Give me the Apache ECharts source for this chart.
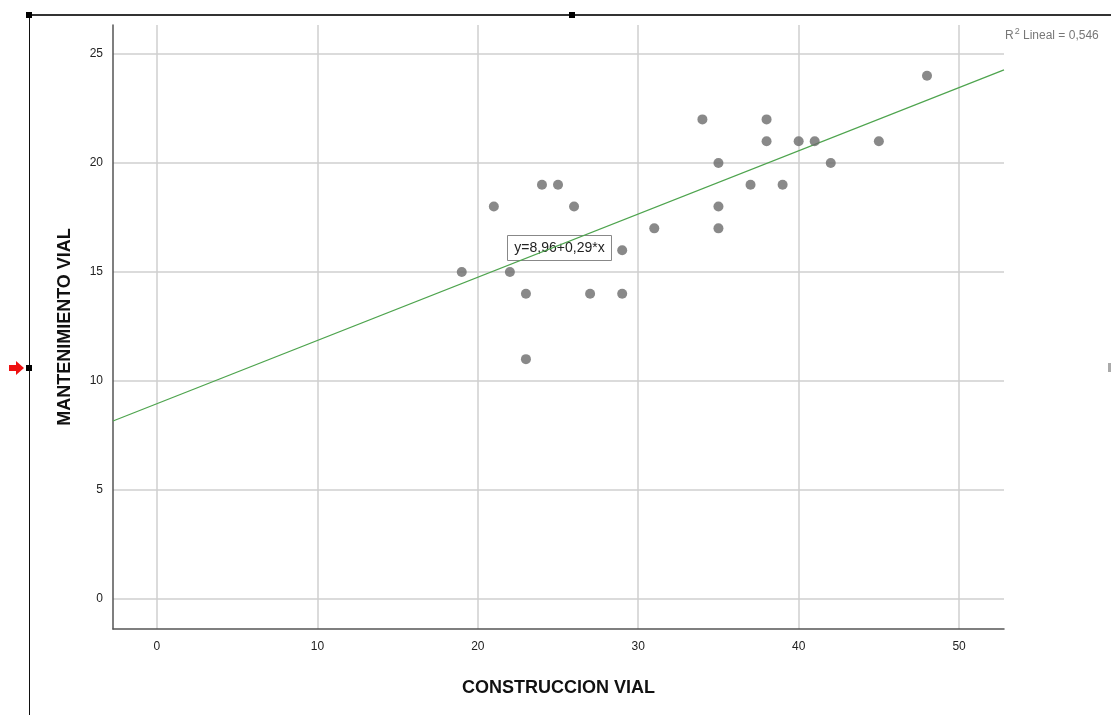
<!DOCTYPE html>
<html>
<head>
<meta charset="utf-8">
<script src="https://cdn.jsdelivr.net/npm/echarts@6/dist/echarts.min.js"></script>
<style>
  html, body { margin: 0; padding: 0; background: #fff; }
  #chart { width: 1111px; height: 715px; }
</style>
</head>
<body>
<div id="chart"></div>
<script>
// construccion vial (x) vs mantenimiento vial (y)
var construccion = [19, 21, 22, 23, 23, 24, 25, 26, 27, 29, 29, 31, 34, 35, 35, 35, 37, 38, 38, 39, 40, 41, 42, 45, 48];
var mantenimiento = [15, 18, 15, 14, 11, 19, 19, 18, 14, 16, 14, 17, 22, 20, 18, 17, 19, 22, 21, 19, 21, 21, 20, 21, 24];
var xTicks = [0, 10, 20, 30, 40, 50];
var yTicks = [0, 5, 10, 15, 20, 25];
var intercept = 8.96;
var slope = 0.29;
var xRange = [-2.74, 52.8];
var yRange = [-1.38, 26.33];

var points = construccion.map(function (x, i) { return [x, mantenimiento[i]]; });
var fitLine = xRange.map(function (x) { return [x, intercept + slope * x]; });

var chart = echarts.init(document.getElementById('chart'));
var font = 'Liberation Sans, Arial, sans-serif';
var gridColor = '#cfcfcf';

chart.setOption({
  animation: false,
  backgroundColor: '#fff',
  grid: { left: 113, right: 107, top: 25, bottom: 86 },
  xAxis: {
    type: 'value',
    min: xRange[0],
    max: xRange[1],
    name: 'CONSTRUCCION VIAL',
    nameLocation: 'middle',
    nameGap: 50,
    nameTextStyle: { fontFamily: font, fontSize: 18, fontWeight: 'bold', color: '#111' },
    axisLine: { show: true, onZero: false, lineStyle: { color: '#555', width: 1.5 } },
    axisTick: { show: false, customValues: xTicks },
    axisLabel: { customValues: xTicks, fontFamily: font, fontSize: 12, color: '#222', margin: 12 },
    splitLine: { show: true, lineStyle: { color: gridColor, width: 1.5 } }
  },
  yAxis: {
    type: 'value',
    min: yRange[0],
    max: yRange[1],
    name: 'MANTENIMIENTO VIAL',
    nameLocation: 'middle',
    nameGap: 39,
    nameRotate: 90,
    nameTextStyle: { fontFamily: font, fontSize: 18, fontWeight: 'bold', color: '#111' },
    axisLine: { show: true, onZero: false, lineStyle: { color: '#555', width: 1.5 } },
    axisTick: { show: false, customValues: yTicks },
    axisLabel: { customValues: yTicks, fontFamily: font, fontSize: 12, color: '#222', margin: 10 },
    splitLine: { show: true, lineStyle: { color: gridColor, width: 1.5 } }
  },
  series: [
    {
      type: 'line',
      data: fitLine,
      symbol: 'none',
      lineStyle: { color: '#4ea44e', width: 1.2 },
      z: 3
    },
    {
      type: 'scatter',
      data: points,
      symbolSize: 10,
      itemStyle: { color: '#6c6c6c' },
      z: 4
    }
  ],
  graphic: [
    // SPSS frame decorations
    { type: 'line', shape: { x1: 29, y1: 15, x2: 1111, y2: 15 }, style: { stroke: '#333', lineWidth: 2 } },
    { type: 'line', shape: { x1: 29.5, y1: 15, x2: 29.5, y2: 715 }, style: { stroke: '#111', lineWidth: 1 } },
    { type: 'rect', shape: { x: 26, y: 12, width: 6, height: 6 }, style: { fill: '#000' } },
    { type: 'rect', shape: { x: 569, y: 12, width: 6, height: 6 }, style: { fill: '#000' } },
    { type: 'rect', shape: { x: 26, y: 365, width: 6, height: 6 }, style: { fill: '#000' } },
    { type: 'polygon', shape: { points: [[9, 365], [16, 365], [16, 361], [24, 368], [16, 375], [16, 371], [9, 371]] }, style: { fill: '#ee1111' } },
    { type: 'rect', shape: { x: 1108, y: 363, width: 3, height: 9 }, style: { fill: '#aaa' } },
    // R2 annotation
    {
      type: 'text', left: 1005, top: 27,
      style: {
        text: '{b|R}{s|2}{b| Lineal = 0,546}',
        rich: {
          b: { fontFamily: font, fontSize: 12, fill: '#777', color: '#777', verticalAlign: 'bottom' },
          s: { fontFamily: font, fontSize: 9, fill: '#777', color: '#777', verticalAlign: 'top', padding: [0, 0, 6, 1] }
        }
      }
    },
    // regression equation box
    {
      type: 'group', left: 507, top: 235,
      children: [
        { type: 'rect', shape: { x: 0, y: 0, width: 104, height: 25 }, style: { fill: '#fff', stroke: '#888', lineWidth: 1 } },
        { type: 'text', x: 52, y: 13, style: { text: 'y=8,96+0,29*x', align: 'center', verticalAlign: 'middle', fontFamily: font, fontSize: 14, fill: '#222' } }
      ]
    }
  ]
});
</script>
</body>
</html>
